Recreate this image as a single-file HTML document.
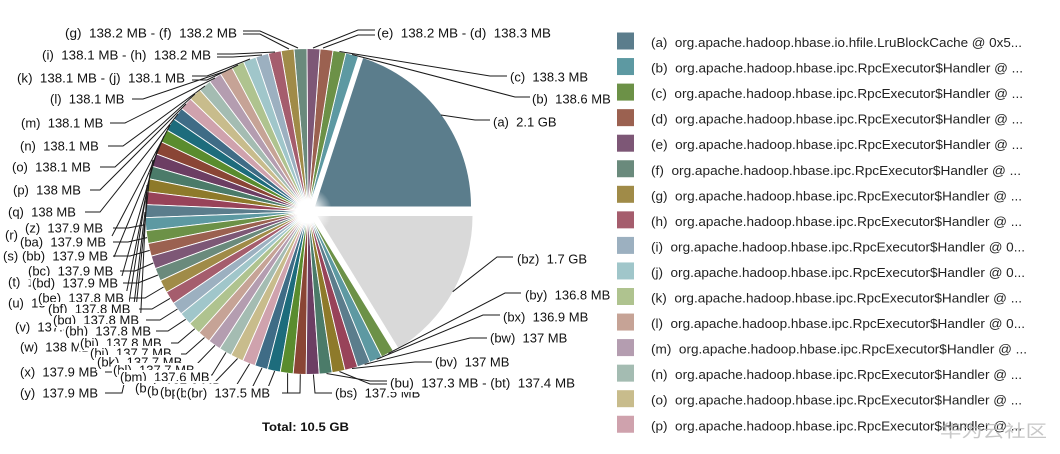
<!DOCTYPE html>
<html><head><meta charset="utf-8"><style>
html,body{margin:0;padding:0;background:#fff;}
svg{display:block;}
text{white-space:pre;font-family:"Liberation Sans",Arial,sans-serif;}
</style></head><body>
<svg width="1060" height="454" viewBox="0 0 1060 454" xmlns="http://www.w3.org/2000/svg">
<defs>
<radialGradient id="glow" cx="0.5" cy="0.5" r="0.5">
<stop offset="0" stop-color="#fff" stop-opacity="1"/>
<stop offset="0.35" stop-color="#fff" stop-opacity="0.9"/>
<stop offset="1" stop-color="#fff" stop-opacity="0"/>
</radialGradient>
</defs>
<rect width="1060" height="454" fill="#fff"/>

<!-- exploded slices -->
<path fill="#5b7d8c" d="M315,206.5L471,206.5A156,156 0 0 0 363.2,58.1Z"/>
<path fill="#d9d9d9" d="M317.5,216L472.5,216A155,155 0 0 1 398.5,348.2Z"/>

<!-- small slices -->
<g stroke="#fff" stroke-width="0.9">
<path fill="#5d99a2" transform="rotate(-72 308 211.5)" d="M308,211.5L471,211.5A163,163 0 0 0 470.477,198.455Z"/>
<path fill="#6c9147" transform="rotate(-76.59 308 211.5)" d="M308,211.5L471,211.5A163,163 0 0 0 470.477,198.455Z"/>
<path fill="#9b6150" transform="rotate(-81.18 308 211.5)" d="M308,211.5L471,211.5A163,163 0 0 0 470.477,198.455Z"/>
<path fill="#7d5776" transform="rotate(-85.77 308 211.5)" d="M308,211.5L471,211.5A163,163 0 0 0 470.477,198.455Z"/>
<path fill="#6a8a7c" transform="rotate(-90.36 308 211.5)" d="M308,211.5L471,211.5A163,163 0 0 0 470.477,198.455Z"/>
<path fill="#a08b48" transform="rotate(-94.95 308 211.5)" d="M308,211.5L471,211.5A163,163 0 0 0 470.477,198.455Z"/>
<path fill="#a55d6d" transform="rotate(-99.54 308 211.5)" d="M308,211.5L471,211.5A163,163 0 0 0 470.477,198.455Z"/>
<path fill="#9cb0c0" transform="rotate(-104.13 308 211.5)" d="M308,211.5L471,211.5A163,163 0 0 0 470.477,198.455Z"/>
<path fill="#a0c6ca" transform="rotate(-108.72 308 211.5)" d="M308,211.5L471,211.5A163,163 0 0 0 470.477,198.455Z"/>
<path fill="#afc38f" transform="rotate(-113.31 308 211.5)" d="M308,211.5L471,211.5A163,163 0 0 0 470.477,198.455Z"/>
<path fill="#c6a396" transform="rotate(-117.9 308 211.5)" d="M308,211.5L471,211.5A163,163 0 0 0 470.477,198.455Z"/>
<path fill="#b49db0" transform="rotate(-122.49 308 211.5)" d="M308,211.5L471,211.5A163,163 0 0 0 470.477,198.455Z"/>
<path fill="#a4bcb2" transform="rotate(-127.08 308 211.5)" d="M308,211.5L471,211.5A163,163 0 0 0 470.477,198.455Z"/>
<path fill="#c8bc8c" transform="rotate(-131.67 308 211.5)" d="M308,211.5L471,211.5A163,163 0 0 0 470.477,198.455Z"/>
<path fill="#cfa2ad" transform="rotate(-136.26 308 211.5)" d="M308,211.5L471,211.5A163,163 0 0 0 470.477,198.455Z"/>
<path fill="#3f6c86" transform="rotate(-140.85 308 211.5)" d="M308,211.5L471,211.5A163,163 0 0 0 470.477,198.455Z"/>
<path fill="#1d6c7c" transform="rotate(-145.44 308 211.5)" d="M308,211.5L471,211.5A163,163 0 0 0 470.477,198.455Z"/>
<path fill="#5a8c2e" transform="rotate(-150.03 308 211.5)" d="M308,211.5L471,211.5A163,163 0 0 0 470.477,198.455Z"/>
<path fill="#8a4535" transform="rotate(-154.62 308 211.5)" d="M308,211.5L471,211.5A163,163 0 0 0 470.477,198.455Z"/>
<path fill="#6c3e63" transform="rotate(-159.21 308 211.5)" d="M308,211.5L471,211.5A163,163 0 0 0 470.477,198.455Z"/>
<path fill="#4b7b69" transform="rotate(-163.8 308 211.5)" d="M308,211.5L471,211.5A163,163 0 0 0 470.477,198.455Z"/>
<path fill="#8e7a2a" transform="rotate(-168.39 308 211.5)" d="M308,211.5L471,211.5A163,163 0 0 0 470.477,198.455Z"/>
<path fill="#984359" transform="rotate(-172.98 308 211.5)" d="M308,211.5L471,211.5A163,163 0 0 0 470.477,198.455Z"/>
<path fill="#5b7d8c" transform="rotate(-177.57 308 211.5)" d="M308,211.5L471,211.5A163,163 0 0 0 470.477,198.455Z"/>
<path fill="#5d99a2" transform="rotate(-182.16 308 211.5)" d="M308,211.5L471,211.5A163,163 0 0 0 470.477,198.455Z"/>
<path fill="#6c9147" transform="rotate(-186.75 308 211.5)" d="M308,211.5L471,211.5A163,163 0 0 0 470.477,198.455Z"/>
<path fill="#9b6150" transform="rotate(-191.34 308 211.5)" d="M308,211.5L471,211.5A163,163 0 0 0 470.477,198.455Z"/>
<path fill="#7d5776" transform="rotate(-195.93 308 211.5)" d="M308,211.5L471,211.5A163,163 0 0 0 470.477,198.455Z"/>
<path fill="#6a8a7c" transform="rotate(-200.52 308 211.5)" d="M308,211.5L471,211.5A163,163 0 0 0 470.477,198.455Z"/>
<path fill="#a08b48" transform="rotate(-205.11 308 211.5)" d="M308,211.5L471,211.5A163,163 0 0 0 470.477,198.455Z"/>
<path fill="#a55d6d" transform="rotate(-209.7 308 211.5)" d="M308,211.5L471,211.5A163,163 0 0 0 470.477,198.455Z"/>
<path fill="#9cb0c0" transform="rotate(-214.29 308 211.5)" d="M308,211.5L471,211.5A163,163 0 0 0 470.477,198.455Z"/>
<path fill="#a0c6ca" transform="rotate(-218.88 308 211.5)" d="M308,211.5L471,211.5A163,163 0 0 0 470.477,198.455Z"/>
<path fill="#afc38f" transform="rotate(-223.47 308 211.5)" d="M308,211.5L471,211.5A163,163 0 0 0 470.477,198.455Z"/>
<path fill="#c6a396" transform="rotate(-228.06 308 211.5)" d="M308,211.5L471,211.5A163,163 0 0 0 470.477,198.455Z"/>
<path fill="#b49db0" transform="rotate(-232.65 308 211.5)" d="M308,211.5L471,211.5A163,163 0 0 0 470.477,198.455Z"/>
<path fill="#a4bcb2" transform="rotate(-237.24 308 211.5)" d="M308,211.5L471,211.5A163,163 0 0 0 470.477,198.455Z"/>
<path fill="#c8bc8c" transform="rotate(-241.83 308 211.5)" d="M308,211.5L471,211.5A163,163 0 0 0 470.477,198.455Z"/>
<path fill="#cfa2ad" transform="rotate(-246.42 308 211.5)" d="M308,211.5L471,211.5A163,163 0 0 0 470.477,198.455Z"/>
<path fill="#3f6c86" transform="rotate(-251.01 308 211.5)" d="M308,211.5L471,211.5A163,163 0 0 0 470.477,198.455Z"/>
<path fill="#1d6c7c" transform="rotate(-255.6 308 211.5)" d="M308,211.5L471,211.5A163,163 0 0 0 470.477,198.455Z"/>
<path fill="#5a8c2e" transform="rotate(-260.19 308 211.5)" d="M308,211.5L471,211.5A163,163 0 0 0 470.477,198.455Z"/>
<path fill="#8a4535" transform="rotate(-264.78 308 211.5)" d="M308,211.5L471,211.5A163,163 0 0 0 470.477,198.455Z"/>
<path fill="#6c3e63" transform="rotate(-269.37 308 211.5)" d="M308,211.5L471,211.5A163,163 0 0 0 470.477,198.455Z"/>
<path fill="#4b7b69" transform="rotate(-273.96 308 211.5)" d="M308,211.5L471,211.5A163,163 0 0 0 470.477,198.455Z"/>
<path fill="#8e7a2a" transform="rotate(-278.55 308 211.5)" d="M308,211.5L471,211.5A163,163 0 0 0 470.477,198.455Z"/>
<path fill="#984359" transform="rotate(-283.14 308 211.5)" d="M308,211.5L471,211.5A163,163 0 0 0 470.477,198.455Z"/>
<path fill="#5b7d8c" transform="rotate(-287.73 308 211.5)" d="M308,211.5L471,211.5A163,163 0 0 0 470.477,198.455Z"/>
<path fill="#5d99a2" transform="rotate(-292.32 308 211.5)" d="M308,211.5L471,211.5A163,163 0 0 0 470.477,198.455Z"/>
<path fill="#6c9147" transform="rotate(-296.91 308 211.5)" d="M308,211.5L471,211.5A163,163 0 0 0 470.477,198.455Z"/>
</g>
<circle cx="308" cy="211.5" r="24" fill="url(#glow)"/>

<!-- leader lines -->
<g fill="none" stroke="#1a1a1a" stroke-width="1">
<polyline points="243,31 260,31 298,48"/>
<polyline points="243,34 260,34 289,49"/>
<polyline points="217,54 233,54 275,52"/>
<polyline points="217,57 233,57 262,55"/>
<polyline points="192,76 207,76 250,59"/>
<polyline points="192,80 207,80 238,65"/>
<polyline points="132,99 143,99 226,71"/>
<polyline points="110,123 125,123 215,78"/>
<polyline points="108,146 123,146 205,86"/>
<polyline points="100,167 115,167 195,94"/>
<polyline points="90,190 100,190 186,104"/>
<polyline points="85,212 100,212 178,114"/>
<polyline points="112,236 170,125"/>
<polyline points="114,257 164,136"/>
<polyline points="120,283 158,148"/>
<polyline points="125,300 153,160"/>
<polyline points="135,318 150,173"/>
<polyline points="140,330 147,185"/>
<polyline points="105,372 118,372 145.5,198"/>
<polyline points="105,393 122,393 125,380 145,212"/>
<polyline points="113,228 128,228 145.5,224.6"/>
<polyline points="113,242 128,242 147,237.6"/>
<polyline points="113,256 130,256 149.7,250.4"/>
<polyline points="120,271 135,271 153.3,263"/>
<polyline points="123,283 138,283 158,275"/>
<polyline points="130,298 145,298 163.6,287"/>
<polyline points="138,309 152,309 170,298.4"/>
<polyline points="146,320 160,320 177.5,309"/>
<polyline points="155,331 168,331 185.7,319.3"/>
<polyline points="165,343 178,343 194.8,328.7"/>
<polyline points="173,354 186,354 204.5,337.5"/>
<polyline points="183,365 196,365 215,345.3"/>
<polyline points="200,375 212,375 226,352.4"/>
<polyline points="215,382 237.6,358.5"/>
<polyline points="236,386 249.6,363.7"/>
<polyline points="252,388 262,368"/>
<polyline points="267,390 274.7,371"/>
<polyline points="283,393 287.6,393 287.6,373.2"/>
<polyline points="282,393 300,393 300.3,374.3"/>
<polyline points="332,393 315,393 313.4,374.4"/>
<polyline points="387,381 370,381 326.5,373.5"/>
<polyline points="387,384 370,384 339.4,371.5"/>
<polyline points="432,362 415,362 352,368.5"/>
<polyline points="487,338 470,338 364.6,364.4"/>
<polyline points="500,315 483,315 376.6,359.3"/>
<polyline points="521,293 505,293 388.3,353.4"/>
<polyline points="513,257 497,257 452.7,291.7"/>
<polyline points="490,120 475,120 441,115"/>
<polyline points="530,97 515,97 352,54.5"/>
<polyline points="507,76 490,76 339.4,51.5"/>
<polyline points="375,35 358,35 323,48"/>
<polyline points="375,30 358,30 313,48"/>
</g>

<!-- labels -->
<g font-size="13" fill="#111">
<text x="65" y="37.5" textLength="172" lengthAdjust="spacingAndGlyphs">(g)  138.2 MB - (f)  138.2 MB</text>
<text x="42" y="59.5" textLength="169" lengthAdjust="spacingAndGlyphs">(i)  138.1 MB - (h)  138.2 MB</text>
<text x="17" y="82.5" textLength="168" lengthAdjust="spacingAndGlyphs">(k)  138.1 MB - (j)  138.1 MB</text>
<text x="50" y="103.5">(l)  138.1 MB</text>
<text x="21" y="127.5">(m)  138.1 MB</text>
<text x="20" y="150.5">(n)  138.1 MB</text>
<text x="12" y="171.5">(o)  138.1 MB</text>
<text x="13" y="194.5">(p)  138 MB</text>
<text x="8" y="216.5">(q)  138 MB</text>
<text x="5" y="239.5">(r)  137.9 MB</text>
<text x="3" y="260.5">(s)  137.9 MB</text>
<text x="8" y="286.5">(t)  137.9 MB</text>
<text x="8" y="307.5">(u)  137.9 MB</text>
<text x="15" y="331.5">(v)  137.9 MB</text>
<text x="20" y="351.5">(w)  138 MB</text>
<text x="20" y="376.5">(x)  137.9 MB</text>
<text x="20" y="397.5">(y)  137.9 MB</text>

<rect x="24" y="221" width="87" height="15" fill="#fff"/><text x="25" y="232.5">(z)  137.9 MB</text>
<rect x="19" y="235" width="92" height="15" fill="#fff"/><text x="20" y="246.5">(ba)  137.9 MB</text>
<rect x="21" y="249" width="92" height="15" fill="#fff"/><text x="22" y="260.5">(bb)  137.9 MB</text>
<rect x="27" y="264" width="92" height="15" fill="#fff"/><text x="28" y="275.5">(bc)  137.9 MB</text>
<rect x="31" y="276" width="92" height="15" fill="#fff"/><text x="32" y="287.5">(bd)  137.9 MB</text>
<rect x="37" y="291" width="92" height="15" fill="#fff"/><text x="38" y="302.5">(be)  137.8 MB</text>
<rect x="47" y="302" width="92" height="15" fill="#fff"/><text x="48" y="313.5">(bf)  137.8 MB</text>
<rect x="52" y="313" width="92" height="15" fill="#fff"/><text x="53" y="324.5">(bg)  137.8 MB</text>
<rect x="64" y="324" width="92" height="15" fill="#fff"/><text x="65" y="335.5">(bh)  137.8 MB</text>
<rect x="79" y="336" width="92" height="15" fill="#fff"/><text x="80" y="347.5">(bi)  137.8 MB</text>
<rect x="89" y="346" width="92" height="15" fill="#fff"/><text x="90" y="357.5">(bj)  137.7 MB</text>
<rect x="96" y="355" width="92" height="15" fill="#fff"/><text x="97" y="366.5">(bk)  137.7 MB</text>
<rect x="112" y="363" width="92" height="15" fill="#fff"/><text x="113" y="374.5">(bl)  137.7 MB</text>
<rect x="119" y="370" width="92" height="15" fill="#fff"/><text x="120" y="381.5">(bm)  137.6 MB</text>
<rect x="134" y="381" width="92" height="15" fill="#fff"/><text x="135" y="392.5">(bn)  137.6 MB</text>
<rect x="146" y="384" width="92" height="15" fill="#fff"/><text x="147" y="395.5">(bo)  137.6 MB</text>
<rect x="159" y="385" width="92" height="15" fill="#fff"/><text x="160" y="396.5">(bp)  137.6 MB</text>
<rect x="175" y="386" width="92" height="15" fill="#fff"/><text x="176" y="397.5">(bq)  137.6 MB</text>
<rect x="186" y="386" width="94" height="15" fill="#fff"/><text x="187" y="397.5">(br)  137.5 MB</text>

<text x="335" y="397.5">(bs)  137.5 MB</text>
<rect x="388" y="376" width="190" height="16" fill="#fff"/>
<text x="390" y="387.5" textLength="185" lengthAdjust="spacingAndGlyphs">(bu)  137.3 MB - (bt)  137.4 MB</text>
<text x="435" y="366.5">(bv)  137 MB</text>
<text x="490" y="342.5">(bw)  137 MB</text>
<text x="503" y="321.5">(bx)  136.9 MB</text>
<text x="525" y="299.5">(by)  136.8 MB</text>
<text x="517" y="263.5">(bz)  1.7 GB</text>
<text x="493" y="126.5">(a)  2.1 GB</text>
<text x="532" y="103.5">(b)  138.6 MB</text>
<text x="510" y="81.5">(c)  138.3 MB</text>
<text x="377" y="37.5" textLength="174" lengthAdjust="spacingAndGlyphs">(e)  138.2 MB - (d)  138.3 MB</text>
</g>

<text x="262" y="431" font-size="12" font-weight="bold" fill="#111" textLength="87" lengthAdjust="spacingAndGlyphs">Total: 10.5 GB</text>

<!-- legend -->
<g>
<rect x="617" y="32.5" width="17" height="17" fill="#5b7d8c"/>
<rect x="617" y="58.05" width="17" height="17" fill="#5d99a2"/>
<rect x="617" y="83.6" width="17" height="17" fill="#6c9147"/>
<rect x="617" y="109.15" width="17" height="17" fill="#9b6150"/>
<rect x="617" y="134.7" width="17" height="17" fill="#7d5776"/>
<rect x="617" y="160.25" width="17" height="17" fill="#6a8a7c"/>
<rect x="617" y="185.8" width="17" height="17" fill="#a08b48"/>
<rect x="617" y="211.35" width="17" height="17" fill="#a55d6d"/>
<rect x="617" y="236.9" width="17" height="17" fill="#9cb0c0"/>
<rect x="617" y="262.45" width="17" height="17" fill="#a0c6ca"/>
<rect x="617" y="288" width="17" height="17" fill="#afc38f"/>
<rect x="617" y="313.55" width="17" height="17" fill="#c6a396"/>
<rect x="617" y="339.1" width="17" height="17" fill="#b49db0"/>
<rect x="617" y="364.65" width="17" height="17" fill="#a4bcb2"/>
<rect x="617" y="390.2" width="17" height="17" fill="#c8bc8c"/>
<rect x="617" y="415.75" width="17" height="17" fill="#cfa2ad"/>
</g>
<g font-size="13" fill="#222" lengthAdjust="spacingAndGlyphs">
<text x="651" y="47" textLength="371" lengthAdjust="spacingAndGlyphs">(a)  org.apache.hadoop.hbase.io.hfile.LruBlockCache @ 0x5...</text>
<text x="651" y="72.55" textLength="372" lengthAdjust="spacingAndGlyphs">(b)  org.apache.hadoop.hbase.ipc.RpcExecutor$Handler @ ...</text>
<text x="651" y="98.1" textLength="372" lengthAdjust="spacingAndGlyphs">(c)  org.apache.hadoop.hbase.ipc.RpcExecutor$Handler @ ...</text>
<text x="651" y="123.65" textLength="372" lengthAdjust="spacingAndGlyphs">(d)  org.apache.hadoop.hbase.ipc.RpcExecutor$Handler @ ...</text>
<text x="651" y="149.2" textLength="372" lengthAdjust="spacingAndGlyphs">(e)  org.apache.hadoop.hbase.ipc.RpcExecutor$Handler @ ...</text>
<text x="651" y="174.75" textLength="370" lengthAdjust="spacingAndGlyphs">(f)  org.apache.hadoop.hbase.ipc.RpcExecutor$Handler @ ...</text>
<text x="651" y="200.3" textLength="371" lengthAdjust="spacingAndGlyphs">(g)  org.apache.hadoop.hbase.ipc.RpcExecutor$Handler @ ...</text>
<text x="651" y="225.85" textLength="371" lengthAdjust="spacingAndGlyphs">(h)  org.apache.hadoop.hbase.ipc.RpcExecutor$Handler @ ...</text>
<text x="651" y="251.4" textLength="374" lengthAdjust="spacingAndGlyphs">(i)  org.apache.hadoop.hbase.ipc.RpcExecutor$Handler @ 0...</text>
<text x="651" y="276.95" textLength="374" lengthAdjust="spacingAndGlyphs">(j)  org.apache.hadoop.hbase.ipc.RpcExecutor$Handler @ 0...</text>
<text x="651" y="302.5" textLength="371" lengthAdjust="spacingAndGlyphs">(k)  org.apache.hadoop.hbase.ipc.RpcExecutor$Handler @ ...</text>
<text x="651" y="328.05" textLength="374" lengthAdjust="spacingAndGlyphs">(l)  org.apache.hadoop.hbase.ipc.RpcExecutor$Handler @ 0...</text>
<text x="651" y="353.6" textLength="376" lengthAdjust="spacingAndGlyphs">(m)  org.apache.hadoop.hbase.ipc.RpcExecutor$Handler @ ...</text>
<text x="651" y="379.15" textLength="371" lengthAdjust="spacingAndGlyphs">(n)  org.apache.hadoop.hbase.ipc.RpcExecutor$Handler @ ...</text>
<text x="651" y="404.7" textLength="371" lengthAdjust="spacingAndGlyphs">(o)  org.apache.hadoop.hbase.ipc.RpcExecutor$Handler @ ...</text>
<text x="651" y="430.25" textLength="371" lengthAdjust="spacingAndGlyphs">(p)  org.apache.hadoop.hbase.ipc.RpcExecutor$Handler @ ...</text>
</g>

<text x="940" y="437" font-size="17" fill="#bdbdbd" fill-opacity="0.85" textLength="107" lengthAdjust="spacingAndGlyphs" style="font-family:'Liberation Sans','Noto Sans CJK SC',sans-serif">华为云社区</text>
</svg>
</body></html>
